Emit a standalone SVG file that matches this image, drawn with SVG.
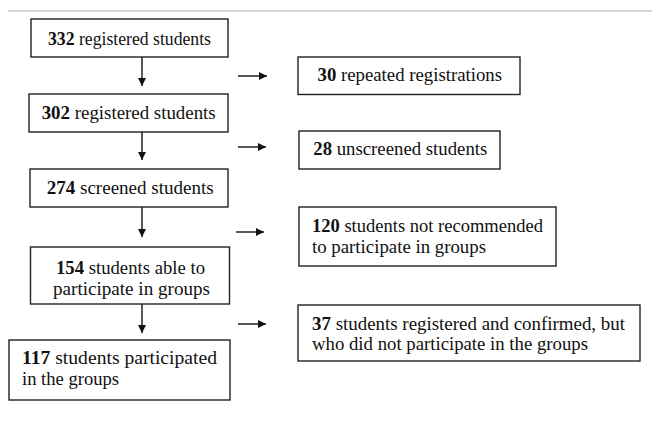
<svg xmlns="http://www.w3.org/2000/svg" width="652" height="424" viewBox="0 0 652 424">
<style>
.b{fill:#fff;stroke:#222;stroke-width:1.4}
.t{font-family:"Liberation Serif","Times New Roman",serif;font-size:19px;fill:#111}
.n{font-weight:bold}
.l{stroke:#111;stroke-width:1.4;fill:none}
</style>
<defs>
<marker id="ah" viewBox="0 0 10 10" refX="10" refY="5" markerWidth="8" markerHeight="8" markerUnits="userSpaceOnUse" orient="auto">
<path d="M0,0 L10,5 L0,10 z" fill="#111"/>
</marker>
</defs>
<rect width="652" height="424" fill="#fff"/>
<line x1="8" y1="11" x2="652" y2="11" stroke="#aaa" stroke-width="1.2"/>
<g id="connectors">
<line class="l" x1="142" y1="57" x2="142" y2="86" marker-end="url(#ah)"/>
<line class="l" x1="142" y1="132" x2="142" y2="160" marker-end="url(#ah)"/>
<line class="l" x1="142" y1="207" x2="142" y2="237" marker-end="url(#ah)"/>
<line class="l" x1="142" y1="304" x2="142" y2="333" marker-end="url(#ah)"/>
<line class="l" x1="238" y1="76" x2="267" y2="76" marker-end="url(#ah)"/>
<line class="l" x1="238" y1="147" x2="266" y2="147" marker-end="url(#ah)"/>
<line class="l" x1="236" y1="232" x2="264" y2="232" marker-end="url(#ah)"/>
<line class="l" x1="238" y1="324" x2="266" y2="324" marker-end="url(#ah)"/>
</g>
<g id="n1">
<rect class="b" x="31" y="19" width="197" height="38"/>
<text class="t" x="48" y="44.5" textLength="163" lengthAdjust="spacingAndGlyphs"><tspan class="n">332</tspan> registered students</text>
</g>
<g id="n2">
<rect class="b" x="29" y="94" width="199" height="38"/>
<text class="t" x="41.7" y="118.8" textLength="174" lengthAdjust="spacingAndGlyphs"><tspan class="n">302</tspan> registered students</text>
</g>
<g id="n3">
<rect class="b" x="30" y="169" width="198" height="38"/>
<text class="t" x="46.7" y="194" textLength="167" lengthAdjust="spacingAndGlyphs"><tspan class="n">274</tspan> screened students</text>
</g>
<g id="n4">
<rect class="b" x="30.5" y="247" width="199" height="57"/>
<text class="t" x="56" y="273.5" textLength="149" lengthAdjust="spacingAndGlyphs"><tspan class="n">154</tspan> students able to</text>
<text class="t" x="53" y="294.5" textLength="157" lengthAdjust="spacingAndGlyphs">participate in groups</text>
</g>
<g id="n5">
<rect class="b" x="9" y="340" width="221" height="60"/>
<text class="t" x="22" y="364" textLength="195" lengthAdjust="spacingAndGlyphs"><tspan class="n">117</tspan> students  participated</text>
<text class="t" x="22" y="385" textLength="97" lengthAdjust="spacingAndGlyphs">in the groups</text>
</g>
<g id="r1">
<rect class="b" x="298" y="57" width="222" height="37.5"/>
<text class="t" x="317.5" y="81" textLength="184.5" lengthAdjust="spacingAndGlyphs"><tspan class="n">30</tspan> repeated registrations</text>
</g>
<g id="r2">
<rect class="b" x="299" y="131" width="201" height="38"/>
<text class="t" x="313.3" y="155.3" textLength="174" lengthAdjust="spacingAndGlyphs"><tspan class="n">28</tspan> unscreened students</text>
</g>
<g id="r3">
<rect class="b" x="299" y="207" width="257" height="59"/>
<text class="t" x="312" y="232.2" textLength="231" lengthAdjust="spacingAndGlyphs"><tspan class="n">120</tspan> students not recommended</text>
<text class="t" x="312" y="252.5" textLength="174" lengthAdjust="spacingAndGlyphs">to participate in groups</text>
</g>
<g id="r4">
<rect class="b" x="298" y="305" width="342" height="56"/>
<text class="t" x="312" y="330.3" textLength="313" lengthAdjust="spacingAndGlyphs"><tspan class="n">37</tspan> students registered and confirmed, but</text>
<text class="t" x="312" y="349.8" textLength="276" lengthAdjust="spacingAndGlyphs">who did not participate in the groups</text>
</g>
</svg>
